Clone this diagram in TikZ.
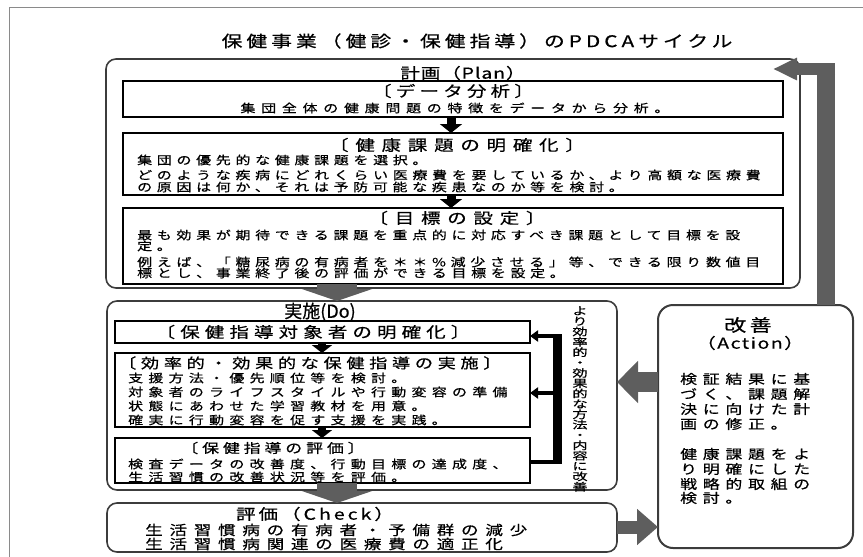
\documentclass[tikz,border=0pt]{standalone}
\usepackage{fontspec}
\usetikzlibrary{arrows.meta}
\newfontfamily\jpfont[FakeStretch=1.3,FakeBold=0.6]{Noto Sans CJK JP}
\newfontfamily\jpnfont[FakeBold=0.6]{Noto Sans CJK JP}
\newfontfamily\jpvfont[FakeStretch=1.45,FakeBold=0.6]{Noto Sans CJK JP}
\newcommand\JF[2]{\fontsize{#1}{#1}\selectfont\jpfont\addfontfeatures{LetterSpace=#2}}
\definecolor{frame}{HTML}{8A8A8A}
\definecolor{outl}{HTML}{3C3C3C}
\definecolor{garrow}{HTML}{5E5E5E}
\tikzset{
  bigbox/.style={draw=outl, line width=1.6pt, rounded corners=10pt, anchor=north west, inner sep=0pt, outer sep=0pt},
  inbox/.style={draw=black, line width=1.5pt, anchor=north west, inner sep=0pt, outer sep=0pt},
  jl/.style={anchor=west, inner sep=0pt},
  jc/.style={anchor=center, inner sep=0pt},
  blk/.style={draw=black, line width=9pt, -{Triangle[length=9pt,width=22pt]}},
  fb/.style={draw=black, line width=4pt},
  gry/.style={draw=garrow, line width=#1},
}
\begin{document}
\begin{tikzpicture}[x=1pt,y=-1pt]
\useasboundingbox (0,0) rectangle (863,557);
\draw[frame, line width=0.8pt] (9,557) -- (9,7) -- (863,7);

% title
\node[jc, font=\JF{16}{25}] (title) at (477,41) {保健事業（健診・保健指導）のPDCAサイクル};

% ---------- Plan ----------
\node[bigbox, minimum width=694pt, minimum height=229pt] (plan) at (106,59) {};
\node[jc, font=\JF{15}{6}] (planT) at (463,73) {計画（Plan）};
\node[inbox, minimum width=660pt, minimum height=36pt] (b1) at (123,81) {};
\node[inbox, minimum width=660pt, minimum height=62pt] (b2) at (123,133) {};
\node[inbox, minimum width=660pt, minimum height=76pt] (b3) at (123,208) {};
\node[jc, font=\JF{15}{28}] (b1t) at (453,91) {〔データ分析〕};
\node[jc, font=\JF{11.5}{50}] (b1a) at (455,108) {集団全体の健康問題の特徴をデータから分析。};
\node[jc, font=\JF{15}{45}] (b2t) at (457,145) {〔健康課題の明確化〕};
\node[jl, font=\JF{11.5}{41}] (b2a) at (137,160) {集団の優先的な健康課題を選択。};
\node[jl, font=\JF{11.5}{41}] (b2b) at (137,175) {どのような疾病にどれくらい医療費を要しているか、より高額な医療費};
\node[jl, font=\JF{11.5}{41}] (b2c) at (137,187) {の原因は何か、それは予防可能な疾患なのか等を検討。};
\node[jc, font=\JF{15}{45}] (b3t) at (457,218) {〔目標の設定〕};
\node[jl, font=\JF{11.5}{41}] (b3a) at (137,235) {最も効果が期待できる課題を重点的に対応すべき課題として目標を設};
\node[jl, font=\JF{11.5}{41}] (b3b) at (137,246) {定。};
\node[jl, font=\JF{11.5}{41}] (b3c) at (137,262) {例えば、「糖尿病の有病者を＊＊\%減少させる」等、できる限り数値目};
\node[jl, font=\JF{11.5}{41}] (b3d) at (137,273) {標とし、事業終了後の評価ができる目標を設定。};
\coordinate (ax) at (451,0);
\draw[blk] (b1.south -| ax) -- (b2.north -| ax);
\draw[blk] (b2.south -| ax) -- (b3.north -| ax);

% ---------- Do ----------
\node[bigbox, minimum width=510pt, minimum height=189pt] (do) at (107,301) {};
\node[jc, font={\fontsize{18}{18}\selectfont\jpnfont}] (doT) at (320,312) {実施(Do)};
\node[inbox, minimum width=415pt, minimum height=22pt] (dA) at (115,321) {};
\node[inbox, minimum width=415pt, minimum height=74pt] (dB) at (115,353) {};
\node[inbox, minimum width=415pt, minimum height=45pt] (dC) at (115,438) {};
\node[jc, font=\JF{15}{34}] (dAt) at (313,332) {〔保健指導対象者の明確化〕};
\node[jl, font=\JF{14}{33}] (dBt) at (118,363) {〔効率的・効果的な保健指導の実施〕};
\node[jl, font=\JF{11.5}{46}] (dBa) at (128,378) {支援方法・優先順位等を検討。};
\node[jl, font=\JF{11.5}{46}] (dBb) at (128,392) {対象者のライフスタイルや行動変容の準備};
\node[jl, font=\JF{11.5}{46}] (dBc) at (128,406) {状態にあわせた学習教材を用意。};
\node[jl, font=\JF{11.5}{46}] (dBd) at (128,420) {確実に行動変容を促す支援を実践。};
\node[jc, font=\JF{13}{30}] (dCt) at (273,448) {〔保健指導の評価〕};
\node[jl, font=\JF{11.5}{46}] (dCa) at (128,464) {検査データの改善度、行動目標の達成度、};
\node[jl, font=\JF{11.5}{46}] (dCb) at (128,477) {生活習慣の改善状況等を評価。};
\coordinate (dx) at (322,0);
\draw[blk, line width=8pt, -{Triangle[length=8pt,width=20pt]}] (dA.south -| dx) -- (dB.north -| dx);
\draw[blk, line width=8pt, -{Triangle[length=8pt,width=20pt]}] (dB.south -| dx) -- (dC.north -| dx);

% feedback connector
\coordinate (vx) at (557.5,0);
\coordinate (fy1) at (0,336);
\coordinate (fy2) at (0,393);
\coordinate (fy3) at (0,462);
\coordinate (vtop) at (0,334);
\coordinate (vbot) at (0,464);
\draw[black, line width=9pt] (vx |- vtop) -- (vx |- vbot);
\draw[fb, -{Triangle[length=8pt,width=11pt]}] (vx |- fy1) -- (dA.east |- fy1);
\draw[fb, -{Triangle[length=8pt,width=11pt]}] (vx |- fy2) -- (dB.east |- fy2);
\draw[fb] (dC.east |- fy3) -- (vx |- fy3);
\node[jc, align=center, font={\fontsize{10.5}{10.35}\selectfont\jpvfont}] (vt) at (580,399)
 {よ\\り\\効\\率\\的\\・\\効\\果\\的\\な\\方\\法\\・\\内\\容\\に\\改\\善};

% ---------- Check ----------
\node[bigbox, minimum width=510pt, minimum height=49pt] (check) at (107,503) {};
\node[jc, font=\JF{15}{20}] (chT) at (315,514) {評価（Check）};
\node[jl, font=\JF{13.5}{50}] (chA) at (145,530) {生活習慣病の有病者・予備群の減少};
\node[jl, font=\JF{13.5}{50}] (chB) at (145,544) {生活習慣病関連の医療費の適正化};

% ---------- Action ----------
\node[bigbox, line width=2pt, rounded corners=15pt, minimum width=195pt, minimum height=243pt] (act) at (658,305) {};
\node[jc, font=\JF{17}{20}] (acT) at (748,325) {改善};
\node[jc, font=\JF{15}{10}] (acA) at (750,343) {（Action）};
\node[jl, font=\JF{13}{44}] (ac1) at (680,379) {検証結果に基};
\node[jl, font=\JF{13}{44}] (ac2) at (680,394) {づく、課題解};
\node[jl, font=\JF{13}{44}] (ac3) at (680,409) {決に向けた計};
\node[jl, font=\JF{13}{44}] (ac4) at (680,424) {画の修正。};
\node[jl, font=\JF{13}{44}] (ac5) at (680,454) {健康課題をよ};
\node[jl, font=\JF{13}{44}] (ac6) at (680,469) {り明確にした};
\node[jl, font=\JF{13}{44}] (ac7) at (680,484) {戦略的取組の};
\node[jl, font=\JF{13}{44}] (ac8) at (680,498) {検討。};

% ---------- gray block arrows ----------
\coordinate (gx) at (337,0);
\draw[gry=40pt, -{Triangle[length=12pt,width=70pt]}] ([yshift=4pt]plan.south -| gx) -- (do.north -| gx);
\draw[gry=40pt, -{Triangle[length=12pt,width=70pt]}] (dC.south -| gx) -- (check.north -| gx);
\coordinate (ay) at (0,382);
\draw[gry=20pt, -{Triangle[length=21pt,width=41pt]}] (act.west |- ay) -- (do.east |- ay);
\coordinate (cy) at (0,527);
\draw[gry=13pt, -{Triangle[length=21pt,width=35pt]}] (check.east |- cy) -- (act.west |- cy);
\coordinate (lx) at (826,0);
\coordinate (ltop) at (0,63);
\coordinate (lh) at (835,69);
\coordinate (ptip) at (773,69);
\draw[gry=18pt] (act.north -| lx) -- (lx |- ltop);
\draw[gry=12pt, -{Triangle[length=24pt,width=21pt]}] (lh) -- (ptip);
\end{tikzpicture}
\end{document}
